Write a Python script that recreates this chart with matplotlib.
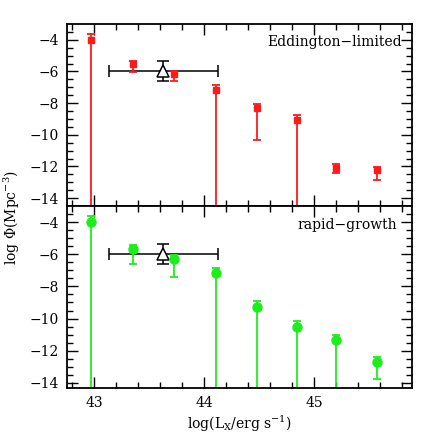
import numpy as np
import matplotlib
matplotlib.use("Agg")
import matplotlib.pyplot as plt

plt.rcParams["font.family"] = "DejaVu Serif"
plt.rcParams["mathtext.fontset"] = "dejavuserif"

# log L_X bins (shared by both panels)
logLx = [42.975, 43.357, 43.73, 44.11, 44.479, 44.84, 45.2, 45.57]

# Eddington-limited model (red squares)
phi_edd = [-4.0, -5.55, -6.15, -7.18, -8.32, -9.08, -12.08, -12.25]
up_edd = [0.38, 0.2, 0.21, 0.31, 0.29, 0.36, 0.23, 0.21]
lo_edd = [None, 0.47, 0.48, None, 2.03, None, 0.36, 0.63]   # None = lower limit

# rapid-growth model (green circles)
phi_rap = [-4.0, -5.66, -6.29, -7.14, -9.30, -10.53, -11.36, -12.69]
up_rap = [0.35, 0.25, 0.25, 0.31, 0.37, 0.36, 0.36, 0.29]
lo_rap = [None, 0.96, 1.12, None, None, None, None, 1.1]

# observed point (black open triangle)
obs_x = 43.63
obs_y = -6.0
obs_xerr = [0.49, 0.5]
obs_yerr = [0.63, 0.65]

red = "#ff1a1a"
green = "#1aef1a"

fig = plt.figure(figsize=(4.36, 4.36), dpi=100)
left, right = 0.1537, 0.9456
ax1 = fig.add_axes([left, 0.5275, right - left, 0.945 - 0.5275])
ax2 = fig.add_axes([left, 0.1108, right - left, 0.5275 - 0.1108])


def draw(ax, y, up, lo, color, marker, ms, ymin):
    for xi, yi, u, l in zip(logLx, y, up, lo):
        low = (yi - ymin + 1) if l is None else l
        ax.errorbar(xi, yi, yerr=[[low], [u]], fmt=marker, color=color,
                    ms=ms, elinewidth=1.3, capsize=2.8, capthick=1.3,
                    clip_on=True)
    ax.errorbar(obs_x, obs_y, xerr=[[obs_xerr[0]], [obs_xerr[1]]],
                yerr=[[obs_yerr[0]], [obs_yerr[1]]], fmt="^", mfc="white",
                mec="black", color="black", ms=8, mew=1.1,
                elinewidth=1.1, capsize=4.5, capthick=1.1, zorder=1)


draw(ax1, phi_edd, up_edd, lo_edd, red, "s", 4.5, -14.5)
draw(ax2, phi_rap, up_rap, lo_rap, green, "o", 6.5, -14.3)

ax1.set_ylim(-14.5, -3)
ax2.set_ylim(-14.3, -3)

for ax in (ax1, ax2):
    ax.set_xlim(42.755, 45.89)
    ax.set_xticks([43, 44, 45])
    ax.set_xticks(np.arange(42.8, 45.9, 0.2), minor=True)
    ax.set_yticks([-14, -12, -10, -8, -6, -4])
    ax.set_yticks(np.arange(-14, -3, 0.5), minor=True)
    ax.tick_params(which="both", direction="in", top=True, right=True,
                   width=1.0, labelsize=10, pad=6)
    ax.tick_params(which="major", length=8)
    ax.tick_params(which="minor", length=4)
    for s in ax.spines.values():
        s.set_linewidth(1.3)

ax1.tick_params(labelbottom=False)

ax1.text(0.97, 0.9, "Eddington\u2212limited", transform=ax1.transAxes,
         ha="right", va="center", fontsize=10)
ax2.text(0.955, 0.895, "rapid\u2212growth", transform=ax2.transAxes,
         ha="right", va="center", fontsize=10)

ax2.set_xlabel(r"log(L$_\mathrm{X}$/erg s$^{-1}$)", fontsize=10, labelpad=3)
fig.text(12 / 436, 1 - 218 / 436, r"log $\Phi$(Mpc$^{-3}$)", rotation=90,
         ha="center", va="center", fontsize=10)

fig.savefig("out.png", dpi=100)
